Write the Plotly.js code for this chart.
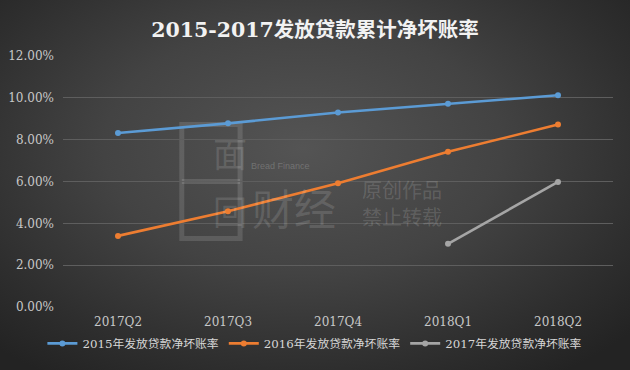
<!DOCTYPE html>
<html>
<head>
<meta charset="utf-8">
<script src="https://cdn.plot.ly/plotly-3.0.1.min.js"></script>
<style>
html,body{margin:0;padding:0;}
#chart{width:630px;height:370px;background:radial-gradient(ellipse 70% 75% at 48% 40%, #545454 0%, #434343 45%, #2e2e2e 80%, #232323 100%);}
</style>
</head>
<body>
<div id="chart"></div>
<script>
const categories = ["2017Q2","2017Q3","2017Q4","2018Q1","2018Q2"];
const series2015 = [8.32, 8.78, 9.30, 9.72, 10.12];
const series2016 = [3.40, 4.58, 5.92, 7.42, 8.72];
const series2017 = [null, null, null, 3.02, 5.98];
const seriesNames = ["2015年发放贷款净坏账率","2016年发放贷款净坏账率","2017年发放贷款净坏账率"];
const seriesColors = ["#5B9BD5","#ED7D31","#A5A5A5"];
const tickVals = [0,2,4,6,8,10,12];
const tickText = ["0.00%","2.00%","4.00%","6.00%","8.00%","10.00%","12.00%"];
const titleText = "2015-2017发放贷款累计净坏账率";

const serifFont = "DejaVu Serif, Liberation Serif, Noto Sans CJK SC, serif";
const allSeries = [series2015, series2016, series2017];
const traces = allSeries.map((vals, i) => ({
  x: categories, y: vals, name: seriesNames[i], type: "scatter", mode: "lines+markers",
  line: {color: seriesColors[i], width: 2.6},
  marker: {color: seriesColors[i], size: 6},
  connectgaps: false
}));

const wm = "rgba(255,255,255,0.13)";
const layout = {
  width: 630, height: 370,
  paper_bgcolor: "rgba(0,0,0,0)", plot_bgcolor: "rgba(0,0,0,0)",
  margin: {l: 63, r: 17, t: 56, b: 61},
  title: {text: "<b>" + titleText + "</b>", x: 0.5, xanchor: "center", y: 0.92, yanchor: "middle",
    font: {family: serifFont, size: 20.5, color: "#f2f2f2"}},
  xaxis: {type: "category", range: [-0.5, 4.5], showgrid: false, zeroline: false, showline: false,
    ticks: "", tickfont: {family: serifFont, size: 12, color: "#c8c8c8"}, automargin: false,
    ticklabelstandoff: 6},
  yaxis: {range: [0, 12], tickvals: tickVals, ticktext: tickText, showgrid: true,
    gridcolor: "#5e5e5e", gridwidth: 1, zeroline: false, showline: false, ticks: "",
    tickfont: {family: serifFont, size: 12, color: "#c8c8c8"}, automargin: false,
    ticklabelstandoff: 8},
  showlegend: true,
  legend: {orientation: "h", x: 0.458, xanchor: "center", y: -0.145, yanchor: "middle",
    font: {family: serifFont, size: 11.8, color: "#d6d6d6"}, itemwidth: 30,
    tracegroupgap: 0, bgcolor: "rgba(0,0,0,0)"},
  shapes: [
    {type: "rect", xref: "paper", yref: "paper", x0: 0.216, x1: 0.322, y0: 0.273, y1: 0.727,
      line: {color: wm, width: 5}, fillcolor: "rgba(0,0,0,0)", layer: "below"},
    {type: "line", xref: "paper", yref: "paper", x0: 0.216, x1: 0.322, y0: 0.50, y1: 0.50,
      line: {color: wm, width: 5}, layer: "below"}
  ],
  annotations: [
    {text: "面", xref: "paper", yref: "paper", x: 0.269, y: 0.615, showarrow: false,
      font: {family: "Noto Sans CJK SC", size: 34, color: wm}},
    {text: "回", xref: "paper", yref: "paper", x: 0.269, y: 0.385, showarrow: false,
      font: {family: "Noto Sans CJK SC", size: 34, color: wm}},
    {text: "Bread Finance", xref: "paper", yref: "paper", x: 0.395, y: 0.56, showarrow: false,
      font: {family: "Liberation Sans, sans-serif", size: 9, color: "rgba(255,255,255,0.2)"}},
    {text: "财经", xref: "paper", yref: "paper", x: 0.42, y: 0.40, showarrow: false,
      font: {family: "Noto Sans CJK SC", size: 42, color: wm}},
    {text: "原创作品", xref: "paper", yref: "paper", x: 0.54, y: 0.47, showarrow: false, xanchor: "left",
      font: {family: "Noto Sans CJK SC", size: 20, color: "rgba(255,255,255,0.15)"}},
    {text: "禁止转载", xref: "paper", yref: "paper", x: 0.54, y: 0.36, showarrow: false, xanchor: "left",
      font: {family: "Noto Sans CJK SC", size: 20, color: "rgba(255,255,255,0.15)"}}
  ]
};

Plotly.newPlot("chart", traces, layout, {displayModeBar: false, staticPlot: true});
</script>
</body>
</html>
